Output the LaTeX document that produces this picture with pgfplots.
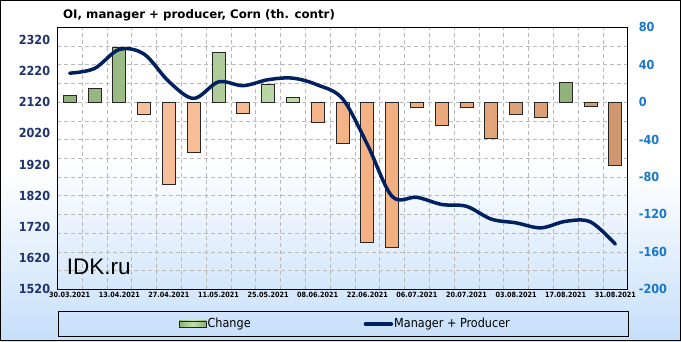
\documentclass[border=0pt]{standalone}
\usepackage{pgfplots}
\pgfplotsset{compat=1.18}
\usepackage{fontspec}
\setmainfont{DejaVu Sans Condensed}
\newfontfamily\titlefont{DejaVu Sans}
\newfontfamily\arialfont{Liberation Sans}
\definecolor{navyline}{RGB}{0,32,96}
\definecolor{leftlab}{RGB}{31,52,110}
\definecolor{rightlab}{RGB}{24,118,204}
\definecolor{barg}{RGB}{169,209,142}
\definecolor{baro}{RGB}{244,177,131}
\definecolor{bgblue}{RGB}{198,223,250}
\definecolor{gridc}{RGB}{185,185,185}
\begin{document}
\begin{tikzpicture}[x=1pt,y=1pt]
\useasboundingbox (0,0) rectangle (681,341);
\shade[top color=white, bottom color=bgblue, middle color=white] (0,0) rectangle (681,341);
\draw[line width=1pt] (0.5,0.5) rectangle (680.5,340.5);
\draw[line width=1pt] (58,5) rectangle (628,30);
\begin{axis}[
  at={(57.3pt,51.7pt)}, anchor=south west,
  scale only axis, width=570.4pt, height=262pt,
  xmin=-0.5, xmax=22.5, ymin=-200, ymax=80,
  axis background/.style={shade, top color=white, bottom color=bgblue!75!white, middle color=white},
  ytick={-200,-160,...,80}, minor ytick={-180,-140,...,60},
  yticklabel pos=right,
  xtick={0,2,...,22},
  xticklabels={30.03.2021,13.04.2021,27.04.2021,11.05.2021,25.05.2021,08.06.2021,22.06.2021,06.07.2021,20.07.2021,03.08.2021,17.08.2021,31.08.2021},
  minor xtick={0.5,1.5,...,21.5},
  xmajorgrids=false, xminorgrids=true, ymajorgrids=true, yminorgrids=true,
  major grid style={gridc, dash pattern=on 4pt off 3pt, line width=0.6pt},
  minor grid style={gridc, dash pattern=on 4pt off 3pt, line width=0.6pt},
  major tick length=0pt, minor tick length=0pt,
  axis line style={line width=1pt, black},
  /pgf/number format/assume math mode=true,
  /pgf/number format/1000 sep={},
  yticklabel style={anchor=west, inner sep=0pt, xshift=11pt, text=rightlab, font=\bfseries\fontsize{12.5}{12.5}\selectfont},
  xticklabel style={anchor=north, inner sep=0pt, yshift=-3pt, font=\bfseries\fontsize{7.2}{7.2}\selectfont},
]
\addplot[ybar, bar width=13pt, bar shift=0pt, left color=barg!85!black, right color=barg!85!black, middle color=barg!70!white, draw=black!85, line width=0.9pt]
  coordinates {(0,7) (1,15) (2,59) (6,53) (8,19) (9,5) (20,21)};
\addplot[ybar, bar width=13pt, bar shift=0pt, left color=baro!80!white, right color=baro!85!black, middle color=baro, draw=black!85, line width=0.9pt]
  coordinates {(3,-13) (4,-88) (5,-54) (7,-12) (10,-22) (11,-44) (12,-150) (13,-155) (14,-6) (15,-25) (16,-6) (17,-39) (18,-13) (19,-16) (21,-5) (22,-68)};
\end{axis}
\begin{axis}[
  at={(57.3pt,51.7pt)}, anchor=south west,
  scale only axis, width=570.4pt, height=262pt,
  xmin=-0.5, xmax=22.5, ymin=1520, ymax=2360,
  ytick={1520,1620,...,2320},
  hide x axis, axis y line*=left, y axis line style={draw=none},
  major tick length=0pt,
  /pgf/number format/assume math mode=true,
  /pgf/number format/1000 sep={},
  yticklabel style={anchor=east, inner sep=0pt, xshift=-7pt, text=leftlab, font=\bfseries\fontsize{12.5}{12.5}\selectfont},
  legend style={at={(0.504,-0.1324)}, anchor=center, draw=none, fill=none, legend columns=2,
    font=\fontsize{12.5}{12.5}\selectfont,
    /tikz/every even column/.append style={column sep=112pt},
    nodes={inner sep=1pt}},
]
\addlegendimage{legend image code/.code={\draw[left color=barg!85!black, right color=barg!85!black, middle color=barg!70!white, draw=black!85, line width=0.9pt] (0pt,-3pt) rectangle (27pt,3pt);}}
\addlegendentry{Change}
\addplot[navyline, line width=3.5pt, line cap=round, smooth, tension=0.55,
  legend image code/.code={\draw[navyline, line width=3.5pt, line cap=round] (1pt,0pt) -- (27pt,0pt);}]
  coordinates {(0,2213) (1,2228) (2,2289) (3,2274) (4,2186) (5,2132) (6,2185) (7,2173) (8,2192) (9,2197) (10,2175) (11,2131) (12,1985) (13,1818) (14,1815) (15,1792) (16,1786) (17,1745) (18,1733) (19,1717) (20,1738) (21,1736) (22,1665)};
\addlegendentry{Manager + Producer}
\end{axis}
\node[anchor=west, inner sep=0pt, font=\titlefont\bfseries\fontsize{11.8}{11.8}\selectfont] at (63,326) {OI, manager + producer, Corn (th. contr)};
\node[anchor=base west, inner sep=0pt, font=\arialfont\fontsize{22.5}{22.5}\selectfont] at (66.7,66.7) {IDK.ru};
\end{tikzpicture}
\end{document}
